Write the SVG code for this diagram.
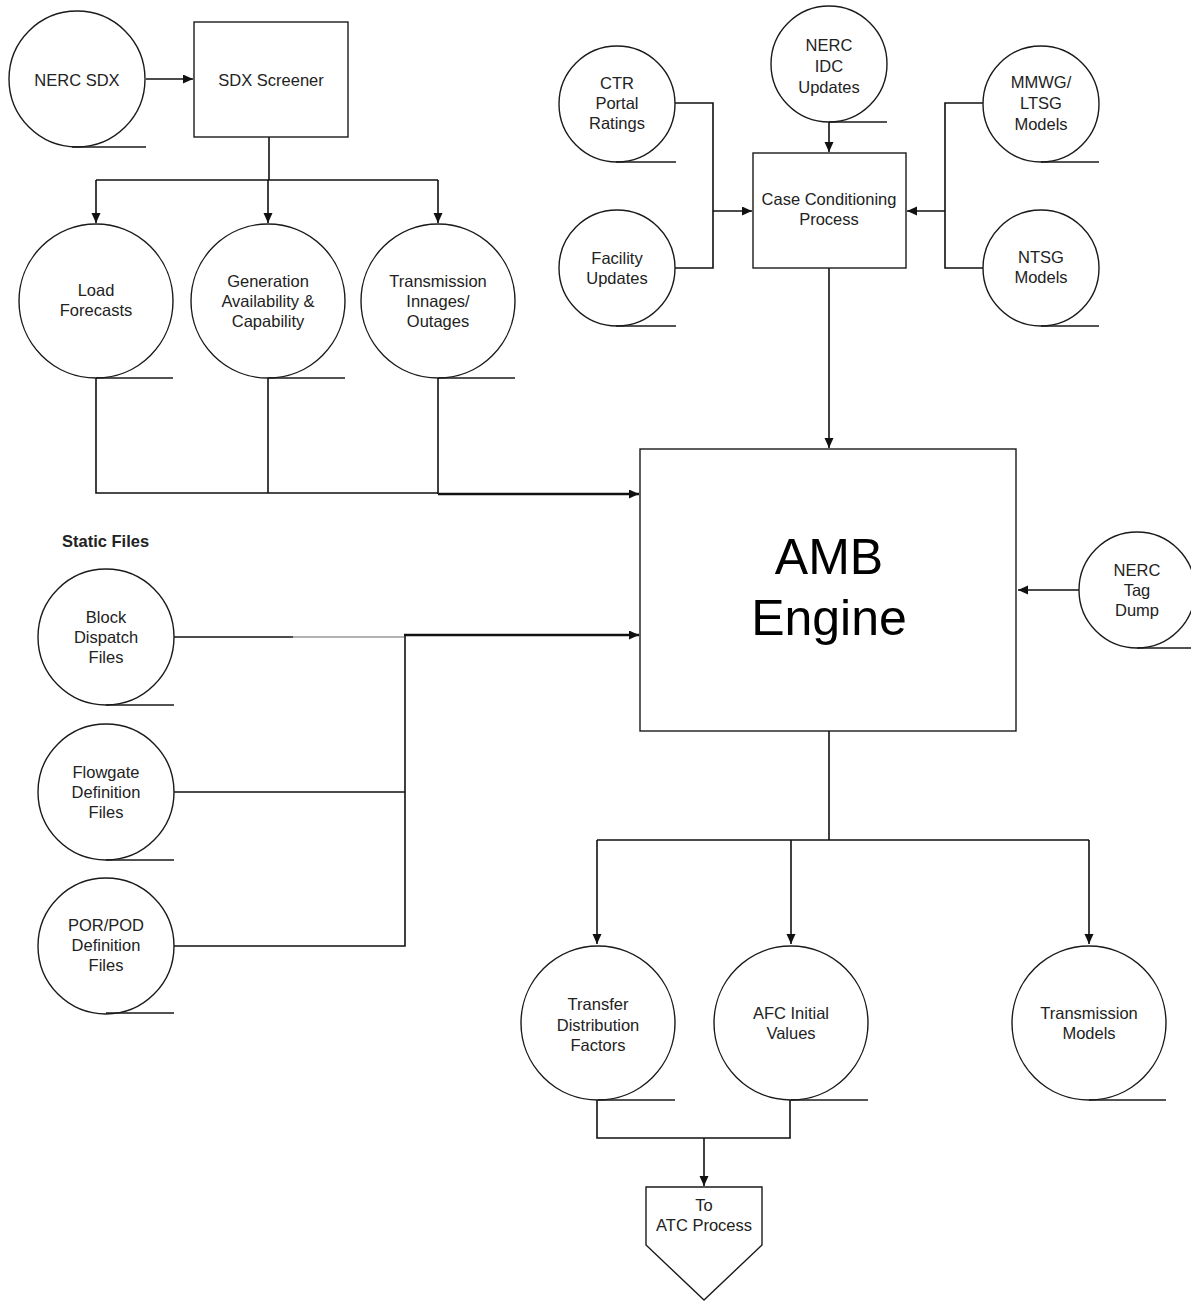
<svg xmlns="http://www.w3.org/2000/svg" width="1191" height="1301" viewBox="0 0 1191 1301">
<style>
.n{fill:#fff;stroke:#1a1a1a;stroke-width:1.4}
.u{stroke:#1a1a1a;stroke-width:1.6;fill:none}
.c{fill:none;stroke:#111;stroke-width:1.6}
.t{stroke:#111;stroke-width:2.6;fill:none}
text{font-family:"Liberation Sans",Arial,sans-serif;font-size:16.5px;fill:#222;text-anchor:middle}
.big{font-size:50px;fill:#000}
.b{font-weight:bold;text-anchor:start}
</style>
<defs>
<marker id="a" markerUnits="userSpaceOnUse" markerWidth="11" markerHeight="10" refX="10" refY="4.5" orient="auto">
<path d="M0,0 L10,4.5 L0,9 z" fill="#111"/>
</marker>
</defs>
<rect width="1191" height="1301" fill="#fff"/>
<g id="connectors">
<line class="c" x1="146" y1="79" x2="193" y2="79" marker-end="url(#a)"/>
<polyline class="c" points="269,137 269,180"/>
<line class="c" x1="96" y1="180" x2="438" y2="180"/>
<line class="c" x1="96" y1="180" x2="96" y2="223" marker-end="url(#a)"/>
<line class="c" x1="268" y1="180" x2="268" y2="223" marker-end="url(#a)"/>
<line class="c" x1="438" y1="180" x2="438" y2="223" marker-end="url(#a)"/>
<polyline class="c" points="96,378 96,493 438,493"/>
<line class="c" x1="268" y1="378" x2="268" y2="493"/>
<line class="c" x1="438" y1="378" x2="438" y2="494"/>
<line class="t" x1="438" y1="494" x2="639" y2="494" marker-end="url(#a)"/>
<line class="c" x1="174" y1="637" x2="293" y2="637"/>
<line x1="293" y1="637" x2="404" y2="637" stroke="#999" stroke-width="1.6"/>
<line class="t" x1="404" y1="635" x2="639" y2="635" marker-end="url(#a)"/>
<polyline class="c" points="405,635 405,946 174,946"/>
<line class="c" x1="174" y1="792" x2="405" y2="792"/>
<line class="c" x1="1079" y1="590" x2="1018" y2="590" marker-end="url(#a)"/>
<polyline class="c" points="675,103 713,103 713,268 675,268"/>
<line class="c" x1="713" y1="211" x2="752" y2="211" marker-end="url(#a)"/>
<polyline class="c" points="983,103 945,103 945,268 983,268"/>
<line class="c" x1="945" y1="211" x2="907" y2="211" marker-end="url(#a)"/>
<line class="c" x1="829" y1="122" x2="829" y2="152" marker-end="url(#a)"/>
<line class="c" x1="829" y1="268" x2="829" y2="448" marker-end="url(#a)"/>
<line class="c" x1="829" y1="731" x2="829" y2="840"/>
<line class="c" x1="597" y1="840" x2="1089" y2="840"/>
<line class="c" x1="597" y1="840" x2="597" y2="944" marker-end="url(#a)"/>
<line class="c" x1="791" y1="840" x2="791" y2="944" marker-end="url(#a)"/>
<line class="c" x1="1089" y1="840" x2="1089" y2="944" marker-end="url(#a)"/>
<polyline class="c" points="597,1100 597,1138 790,1138 790,1100"/>
<line class="c" x1="704" y1="1138" x2="704" y2="1186" marker-end="url(#a)"/>
</g>
<g id="nerc-sdx"><circle class="n" cx="77" cy="79" r="68"/><line class="u" x1="72" y1="147" x2="146" y2="147"/><text x="77" y="86">NERC SDX</text></g>
<g id="sdx-screener"><rect class="n" x="194" y="22" width="154" height="115"/><text x="271" y="86">SDX Screener</text></g>
<g id="load-forecasts"><circle class="n" cx="96" cy="301" r="77"/><line class="u" x1="96" y1="378" x2="173" y2="378"/><text x="96" y="296">Load</text><text x="96" y="316">Forecasts</text></g>
<g id="generation"><circle class="n" cx="268" cy="301" r="77"/><line class="u" x1="268" y1="378" x2="345" y2="378"/><text x="268" y="287">Generation</text><text x="268" y="307">Availability &amp;</text><text x="268" y="327">Capability</text></g>
<g id="transmission-innages"><circle class="n" cx="438" cy="301" r="77"/><line class="u" x1="438" y1="378" x2="515" y2="378"/><text x="438" y="287">Transmission</text><text x="438" y="307">Innages/</text><text x="438" y="327">Outages</text></g>
<g id="static-files-label"><text class="b" x="62" y="547">Static Files</text></g>
<g id="block-dispatch"><circle class="n" cx="106" cy="637" r="68"/><line class="u" x1="106" y1="705" x2="174" y2="705"/><text x="106" y="623">Block</text><text x="106" y="643">Dispatch</text><text x="106" y="663">Files</text></g>
<g id="flowgate"><circle class="n" cx="106" cy="792" r="68"/><line class="u" x1="106" y1="860" x2="174" y2="860"/><text x="106" y="778">Flowgate</text><text x="106" y="798">Definition</text><text x="106" y="818">Files</text></g>
<g id="por-pod"><circle class="n" cx="106" cy="946" r="68"/><line class="u" x1="106" y1="1013" x2="174" y2="1013"/><text x="106" y="931">POR/POD</text><text x="106" y="951">Definition</text><text x="106" y="971">Files</text></g>
<g id="ctr-portal"><circle class="n" cx="617" cy="104" r="58"/><line class="u" x1="616" y1="162" x2="676" y2="162"/><text x="617" y="89">CTR</text><text x="617" y="109">Portal</text><text x="617" y="129">Ratings</text></g>
<g id="facility-updates"><circle class="n" cx="617" cy="268" r="58"/><line class="u" x1="616" y1="326" x2="676" y2="326"/><text x="617" y="264">Facility</text><text x="617" y="284">Updates</text></g>
<g id="nerc-idc"><circle class="n" cx="829" cy="64" r="58"/><line class="u" x1="829" y1="122" x2="887" y2="122"/><text x="829" y="51">NERC</text><text x="829" y="72">IDC</text><text x="829" y="93">Updates</text></g>
<g id="case-conditioning"><rect class="n" x="753" y="153" width="153" height="115"/><text x="829" y="205">Case Conditioning</text><text x="829" y="225">Process</text></g>
<g id="mmwg-ltsg"><circle class="n" cx="1041" cy="104" r="58"/><line class="u" x1="1041" y1="162" x2="1099" y2="162"/><text x="1041" y="88">MMWG/</text><text x="1041" y="109">LTSG</text><text x="1041" y="130">Models</text></g>
<g id="ntsg"><circle class="n" cx="1041" cy="268" r="58"/><line class="u" x1="1041" y1="326" x2="1099" y2="326"/><text x="1041" y="263">NTSG</text><text x="1041" y="283">Models</text></g>
<g id="amb-engine"><rect class="n" x="640" y="449" width="376" height="282"/><text class="big" x="829" y="574">AMB</text><text class="big" x="829" y="635">Engine</text></g>
<g id="nerc-tag-dump"><circle class="n" cx="1137" cy="590" r="58"/><line class="u" x1="1137" y1="648" x2="1191" y2="648"/><text x="1137" y="576">NERC</text><text x="1137" y="596">Tag</text><text x="1137" y="616">Dump</text></g>
<g id="transfer-distribution"><circle class="n" cx="598" cy="1023" r="77"/><line class="u" x1="598" y1="1100" x2="675" y2="1100"/><text x="598" y="1010">Transfer</text><text x="598" y="1031">Distribution</text><text x="598" y="1051">Factors</text></g>
<g id="afc-initial"><circle class="n" cx="791" cy="1023" r="77"/><line class="u" x1="791" y1="1100" x2="868" y2="1100"/><text x="791" y="1019">AFC Initial</text><text x="791" y="1039">Values</text></g>
<g id="transmission-models"><circle class="n" cx="1089" cy="1023" r="77"/><line class="u" x1="1089" y1="1100" x2="1166" y2="1100"/><text x="1089" y="1019">Transmission</text><text x="1089" y="1039">Models</text></g>
<g id="to-atc"><polygon class="n" points="646,1187 762,1187 762,1245 704,1300 646,1245"/><text x="704" y="1211">To</text><text x="704" y="1231">ATC Process</text></g>
</svg>
